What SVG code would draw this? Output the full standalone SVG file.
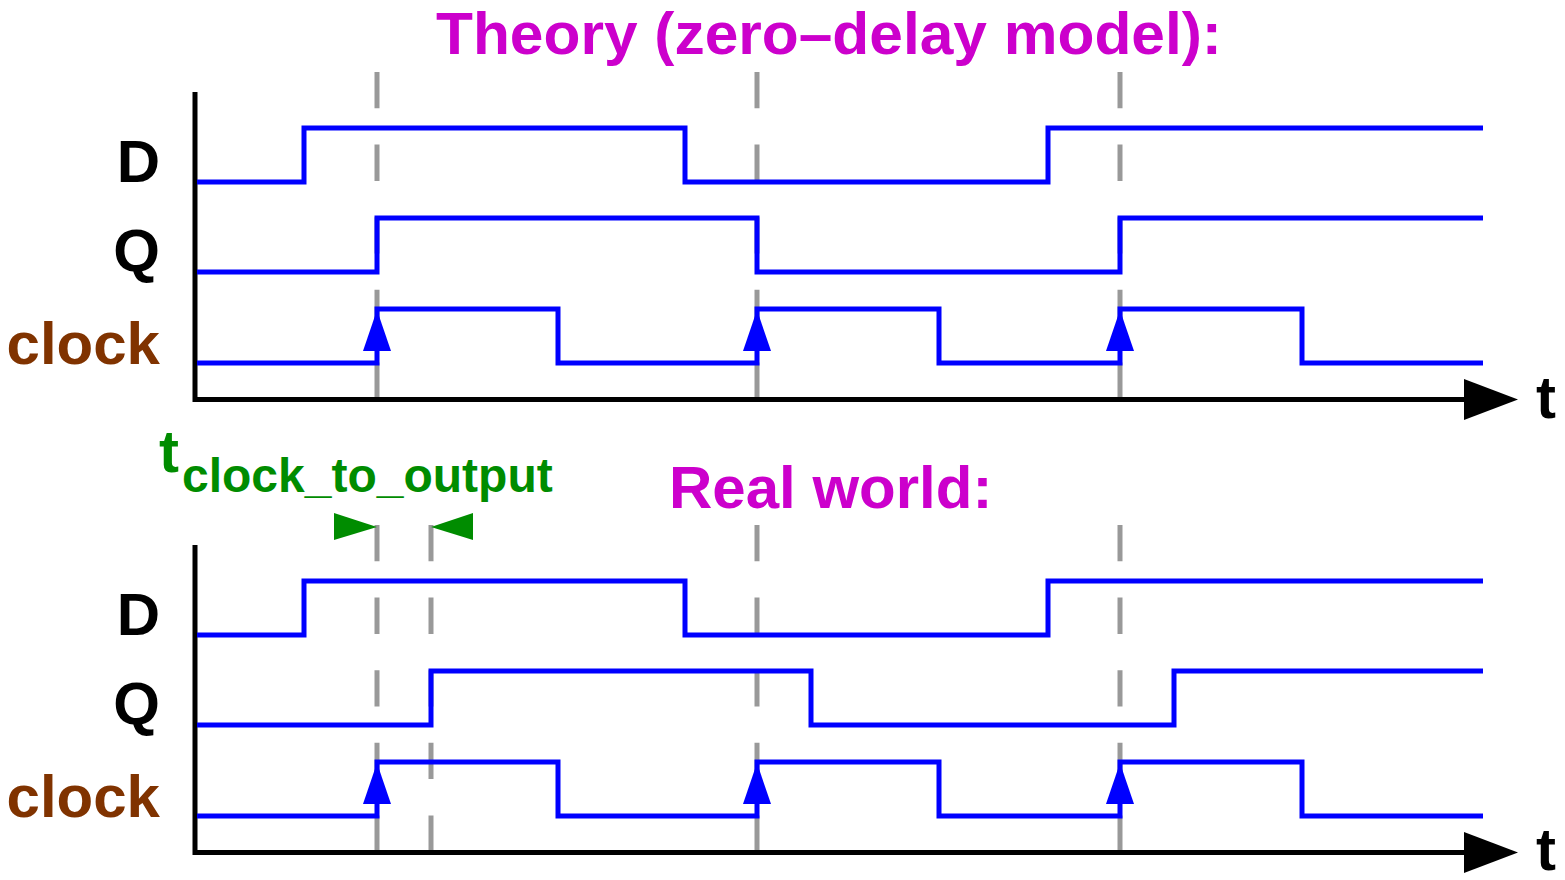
<svg xmlns="http://www.w3.org/2000/svg" width="1565" height="880" viewBox="0 0 1565 880">
<style>
text{font-family:"Liberation Sans",Arial,sans-serif;font-weight:bold}
.title{font-size:60px;fill:#cc00cc}
.lab{font-size:60px;fill:#000;text-anchor:end}
.clk{fill:#803300}
.sig{fill:none;stroke:#0000ff;stroke-width:5;stroke-linejoin:miter}
.dash{stroke:#999;stroke-width:5;stroke-dasharray:36.3 36.3}
.axis{fill:none;stroke:#000;stroke-width:5}
.edge{fill:#0000ff}
.grn{fill:#008c00}
</style>
<rect width="1565" height="880" fill="#fff"/>
<text class="title" x="436" y="54" textLength="786" lengthAdjust="spacingAndGlyphs">Theory (zero–delay model):</text>
<text class="title" x="669" y="508">Real world:</text>

<g id="guides">
<line class="dash" x1="377" y1="72" x2="377" y2="399"/>
<line class="dash" x1="757" y1="72" x2="757" y2="399"/>
<line class="dash" x1="1120" y1="72" x2="1120" y2="399"/>
<line class="dash" x1="377" y1="525" x2="377" y2="852"/>
<line class="dash" x1="431" y1="525" x2="431" y2="852"/>
<line class="dash" x1="757" y1="525" x2="757" y2="852"/>
<line class="dash" x1="1120" y1="525" x2="1120" y2="852"/>
</g>

<g id="theory">
<g id="theory-axes">
<path class="axis" d="M195,92 V399.5 H1470"/>
<polygon points="1464,379 1518,399.5 1464,420" fill="#000"/>
<text x="1536" y="418" style="font-size:60px">t</text>
</g>
<g id="theory-D">
<text class="lab" x="160" y="182">D</text>
<polyline class="sig" points="197,182 304,182 304,128 685,128 685,182 1048,182 1048,128 1483,128"/>
</g>
<g id="theory-Q">
<text class="lab" x="160" y="271">Q</text>
<polyline class="sig" points="197,272 377,272 377,218 757,218 757,272 1120,272 1120,218 1483,218"/>
</g>
<g id="theory-clock">
<text class="lab clk" x="160" y="364">clock</text>
<polyline class="sig" points="197,363 377,363 377,309 558,309 558,363 757,363 757,309 939,309 939,363 1120,363 1120,309 1302,309 1302,363 1483,363"/>
<polygon class="edge" points="377,310 363,351 391,351"/>
<polygon class="edge" points="757,310 743,351 771,351"/>
<polygon class="edge" points="1120,310 1106,351 1134,351"/>
</g>
</g>

<g id="real">
<g id="real-axes">
<path class="axis" d="M195,545 V852.5 H1470"/>
<polygon points="1464,832 1518,852.5 1464,873" fill="#000"/>
<text x="1536" y="870" style="font-size:60px">t</text>
</g>
<g id="real-D">
<text class="lab" x="160" y="635">D</text>
<polyline class="sig" points="197,635 304,635 304,581 685,581 685,635 1048,635 1048,581 1483,581"/>
</g>
<g id="real-Q">
<text class="lab" x="160" y="724">Q</text>
<polyline class="sig" points="197,725 431,725 431,671 811,671 811,725 1174,725 1174,671 1483,671"/>
</g>
<g id="real-clock">
<text class="lab clk" x="160" y="817">clock</text>
<polyline class="sig" points="197,816 377,816 377,762 558,762 558,816 757,816 757,762 939,762 939,816 1120,816 1120,762 1302,762 1302,816 1483,816"/>
<polygon class="edge" points="377,763 363,804 391,804"/>
<polygon class="edge" points="757,763 743,804 771,804"/>
<polygon class="edge" points="1120,763 1106,804 1134,804"/>
</g>
</g>

<g id="tco">
<text class="grn" x="159" y="472" style="font-size:60px">t</text>
<text class="grn" x="182" y="492" style="font-size:48px">clock_to_output</text>
<polygon class="grn" points="334,513 377,527 334,540"/>
<polygon class="grn" points="473,513 431,527 473,540"/>
</g>
</svg>
